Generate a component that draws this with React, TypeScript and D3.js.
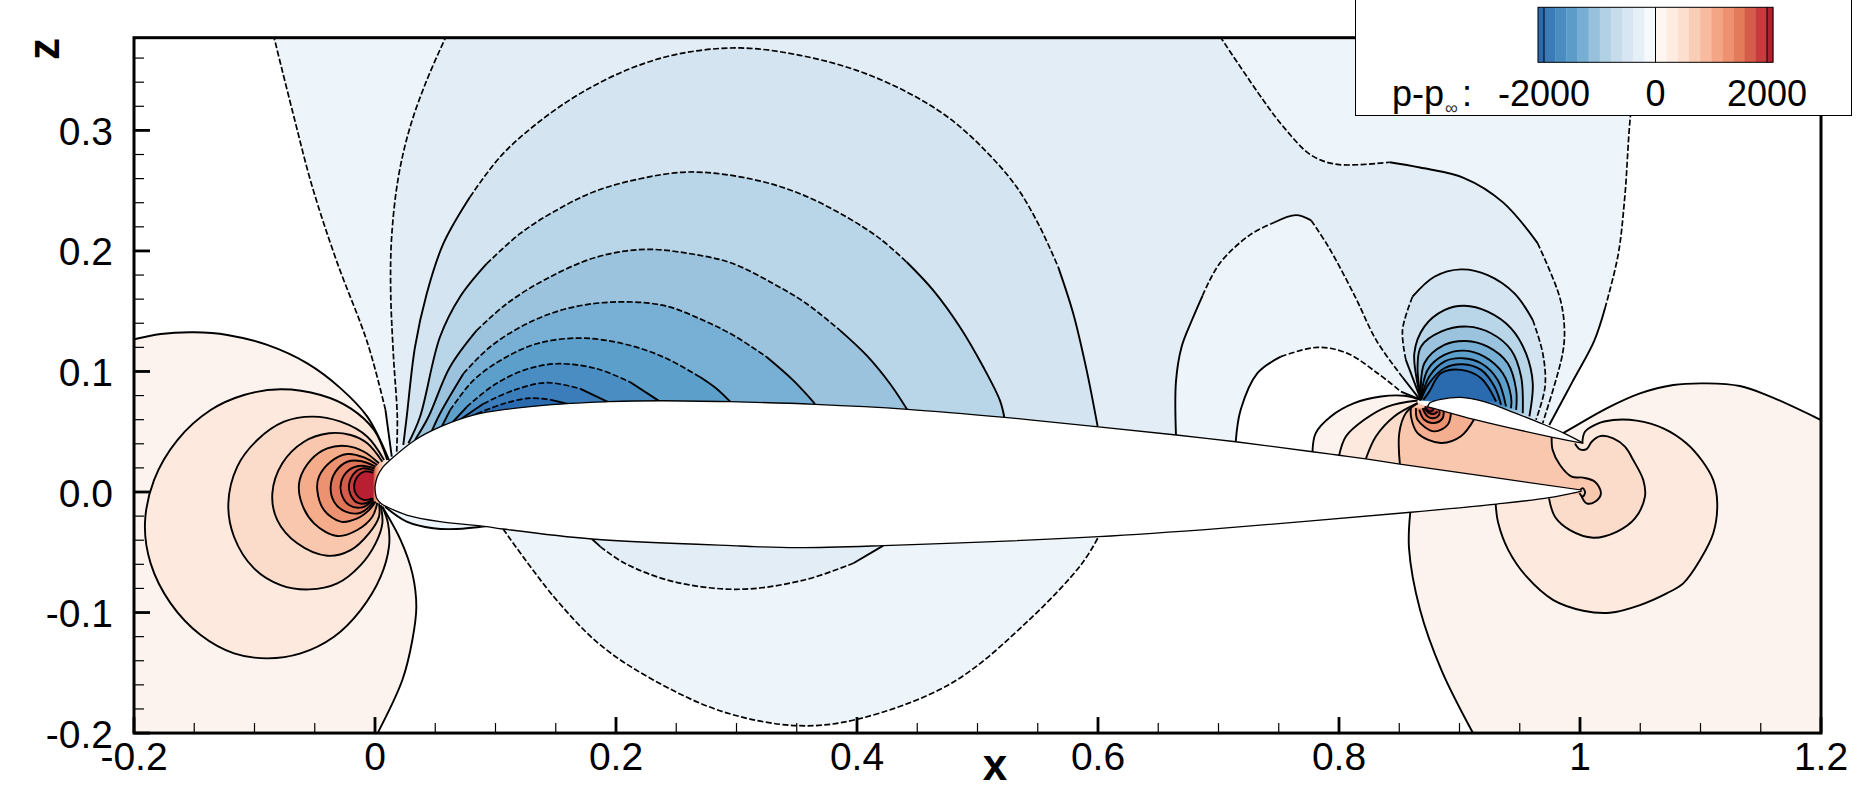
import React from "react";
import * as d3 from "d3";

type P = [number, number];

// ---------- axis data ----------
const xMajor = [-0.2, 0, 0.2, 0.4, 0.6, 0.8, 1, 1.2];
const xLabels = ["-0.2", "0", "0.2", "0.4", "0.6", "0.8", "1", "1.2"];
const zMajor = [-0.2, -0.1, 0, 0.1, 0.2, 0.3];
const zLabels = ["-0.2", "-0.1", "0.0", "0.1", "0.2", "0.3"];
const xMinor = [-0.15, -0.1, -0.05, 0.05, 0.1, 0.15, 0.25, 0.3, 0.35, 0.45, 0.5, 0.55, 0.65, 0.7, 0.75, 0.85, 0.9, 0.95, 1.05, 1.1, 1.15];
const zMinor = [-0.18, -0.16, -0.14, -0.12, -0.08, -0.06, -0.04, -0.02, 0.02, 0.04, 0.06, 0.08, 0.12, 0.14, 0.16, 0.18, 0.22, 0.24, 0.26, 0.28, 0.32, 0.34, 0.36];

// ---------- legend data ----------
const legendLevels = [-2108, -2000, -1800, -1600, -1400, -1200, -1000, -800, -600, -400, -200, 0, 200, 400, 600, 800, 1000, 1200, 1400, 1600, 1800, 2000, 2108];
const legendColors = ["#2B6AAE", "#3A7BB8", "#4A8CC0", "#5C9CC9", "#77AED3", "#97C0DC", "#B2D1E5", "#C6DCEB", "#D7E6F2", "#E5EFF6", "#F5F9FC", "#FFF6F1", "#FEECE1", "#FCDFCF", "#FACDB7", "#F8BBA0", "#F4A586", "#EE9170", "#E37A5A", "#D55C4A", "#C63C3E", "#B2202F"];
const legendTicks = [-2000, 0, 2000];

// ---------- band colours ----------
const blue = ["#EEF5FA", "#E2EDF6", "#D4E5F1", "#B9D6E9", "#9BC3DD", "#78B0D5", "#5C9FCB", "#4A8DC2", "#3A7DBA", "#2A6BB0"];
const red = ["#FDF3EE", "#FDE9DD", "#FBDCCB", "#F9C7AE", "#F5AC8A", "#EC9270", "#DF7558", "#D45C4A", "#C73D3E", "#B81F30"];
const noseReds = ["#F4AE90", "#EC9270", "#DF7558", "#D45C4A", "#C73D3E", "#A81E34"];

// ---------- bodies ----------
const mainUpper: P[] = [[0, 0.0044], [0.0019, 0.0127], [0.0069, 0.021], [0.0125, 0.0265], [0.033, 0.043], [0.054, 0.054], [0.0816, 0.0638], [0.109, 0.0686], [0.162, 0.0735], [0.1935, 0.0749], [0.2367, 0.0757], [0.2948, 0.0749], [0.3655, 0.0727], [0.442, 0.0686], [0.5226, 0.0619], [0.6005, 0.0541], [0.665, 0.0473], [0.7143, 0.0417], [0.778, 0.0334], [0.8, 0.0305], [0.8223, 0.0274], [0.8505, 0.0232], [1.0008, 0.0017]];
const mainLower: P[] = [[1.0008, 0.0005], [0.9745, -0.0047], [0.9308, -0.01], [0.8596, -0.0168], [0.7018, -0.0301], [0.6005, -0.037], [0.4218, -0.0445], [0.3496, -0.0462], [0.3032, -0.0448], [0.18, -0.039], [0.1063, -0.0307], [0.0928, -0.0288], [0.054, -0.0246], [0.0263, -0.0191], [0.0097, -0.0122], [0.0056, -0.01], [0.0014, -0.0052], [0.0002, 0.0003], [0, 0.0044]];
const flapUpper: P[] = [[0.8735, 0.0707], [0.8755, 0.074], [0.8845, 0.0769], [0.9012, 0.0785], [0.9205, 0.0749], [0.9452, 0.0658], [0.9676, 0.057], [0.987, 0.0487], [1.0022, 0.0409]];
const flapLower: P[] = [[1.0022, 0.0405], [0.9773, 0.0454], [0.912, 0.0603], [0.8787, 0.0694], [0.8735, 0.0707]];

// ---------- blue contours, main element, upper side ----------
const c1: P[] = [[0.0139, 0.0293], [0.0087, 0.068], [-0.006, 0.123], [-0.032, 0.192], [-0.052, 0.253], [-0.068, 0.314], [-0.084, 0.378]];
const c2: P[] = [[0.018, 0.0334], [0.0185, 0.0622], [0.0152, 0.1147], [0.013, 0.1673], [0.0138, 0.2115], [0.0194, 0.2613], [0.0291, 0.3028], [0.0429, 0.3415], [0.059, 0.378]];
const l3: P[] = [[0.0235, 0.039], [0.0263, 0.0622], [0.0332, 0.1203], [0.0429, 0.1645], [0.0567, 0.206], [0.0788, 0.2447], [0.1037, 0.2779], [0.1342, 0.3056], [0.1701, 0.3305], [0.2116, 0.3512], [0.2531, 0.3637], [0.3029, 0.3684], [0.3527, 0.3623], [0.3997, 0.3498], [0.4412, 0.3319], [0.4772, 0.3097], [0.5076, 0.2821], [0.5325, 0.253], [0.5518, 0.2198], [0.567, 0.1866], [0.5795, 0.1479], [0.5906, 0.1009], [0.5997, 0.0544]];
const l4: P[] = [[0.0277, 0.0404], [0.0373, 0.0622], [0.0539, 0.1286], [0.0705, 0.1618], [0.0927, 0.1894], [0.1203, 0.2143], [0.148, 0.2323], [0.1812, 0.2489], [0.2199, 0.2599], [0.2614, 0.2655], [0.3112, 0.2599], [0.3527, 0.2475], [0.3914, 0.2281], [0.419, 0.2102], [0.4412, 0.1908], [0.4633, 0.1673], [0.4854, 0.1369], [0.5048, 0.1037], [0.5186, 0.076], [0.5222, 0.0622]];
const l5: P[] = [[0.0332, 0.0431], [0.0443, 0.0622], [0.0622, 0.1037], [0.0844, 0.1341], [0.1093, 0.1562], [0.1425, 0.177], [0.1839, 0.1949], [0.2254, 0.2013], [0.2697, 0.1963], [0.2974, 0.1894], [0.3306, 0.1728], [0.3582, 0.1562], [0.3859, 0.1341], [0.408, 0.1133], [0.4274, 0.0898], [0.4417, 0.0683]];
const l6: P[] = [[0.0457, 0.0473], [0.0539, 0.0649], [0.0733, 0.0981], [0.0954, 0.1203], [0.1259, 0.1396], [0.159, 0.1521], [0.1978, 0.1576], [0.2393, 0.1548], [0.2725, 0.1424], [0.2974, 0.13], [0.325, 0.112], [0.3471, 0.0926], [0.3651, 0.0732]];
const l7: P[] = [[0.054, 0.0514], [0.0622, 0.0677], [0.0816, 0.0926], [0.1065, 0.1106], [0.1342, 0.123], [0.1701, 0.1277], [0.2061, 0.123], [0.2393, 0.112], [0.2697, 0.0954], [0.2835, 0.0857], [0.2951, 0.0746]];
const l8: P[] = [[0.0623, 0.0556], [0.076, 0.0705], [0.0982, 0.0884], [0.1231, 0.1009], [0.1508, 0.1064], [0.1839, 0.1023], [0.2116, 0.0912], [0.2359, 0.0754]];
const l9: P[] = [[0.0678, 0.058], [0.0899, 0.0732], [0.1148, 0.0843], [0.1425, 0.0907], [0.1701, 0.0857], [0.1936, 0.0746]];
const l10: P[] = [[0.0733, 0.0591], [0.0844, 0.0649], [0.1065, 0.0732], [0.1286, 0.0779], [0.1452, 0.0766], [0.1618, 0.0727]];

// ---------- blue contours, right part ----------
const r1: P[] = [[1.05, 0.378], [1.0418, 0.3115], [1.0371, 0.2438], [1.0316, 0.1965], [1.0208, 0.1526], [1.0118, 0.1254], [0.9938, 0.0916], [0.9745, 0.0556]];
const r2: P[] = [[0.7012, 0.378], [0.7372, 0.325], [0.7553, 0.3013], [0.777, 0.2794], [0.7987, 0.2718], [0.842, 0.2736], [0.8672, 0.2692], [0.9034, 0.2607], [0.9359, 0.2405], [0.9648, 0.2065], [0.9829, 0.1625], [0.987, 0.1371], [0.9856, 0.115], [0.969, 0.057]];
const midLoop: P[] = [[0.6647, 0.0473], [0.6647, 0.0916], [0.6694, 0.1206], [0.678, 0.1427], [0.6867, 0.1628], [0.7011, 0.1898], [0.7264, 0.2135], [0.7462, 0.2236], [0.7643, 0.2297], [0.7769, 0.2253], [0.7913, 0.2033], [0.813, 0.1628], [0.8311, 0.1256], [0.8527, 0.0952], [0.8672, 0.0766]];
const whiteLoop: P[] = [[0.7143, 0.0417], [0.7184, 0.0682], [0.7323, 0.0986], [0.7517, 0.1123], [0.7821, 0.12], [0.807, 0.115], [0.832, 0.0985], [0.8514, 0.0833], [0.868, 0.0764]];

// ---------- blue contours, flap ----------
const f3: P[] = [[0.868, 0.0764], [0.8555, 0.1096], [0.8527, 0.1344], [0.861, 0.162], [0.8791, 0.1786], [0.9012, 0.1847], [0.9234, 0.18], [0.9456, 0.1648], [0.9608, 0.1427], [0.9691, 0.115], [0.971, 0.0875], [0.9635, 0.0599]];
const f4: P[] = [[0.868, 0.0764], [0.8625, 0.115], [0.8708, 0.1372], [0.8874, 0.1509], [0.904, 0.1545], [0.9234, 0.1496], [0.9428, 0.1358], [0.9552, 0.115], [0.9608, 0.0902], [0.958, 0.0627]];
const f5: P[] = [[0.868, 0.0764], [0.8652, 0.1041], [0.868, 0.1206], [0.8846, 0.133], [0.9068, 0.1372], [0.9262, 0.1317], [0.9428, 0.1178], [0.9511, 0.0958], [0.9525, 0.0654]];
const f6: P[] = [[0.868, 0.0764], [0.8708, 0.1068], [0.8874, 0.122], [0.9054, 0.1253], [0.9234, 0.1206], [0.94, 0.1068], [0.947, 0.0847], [0.947, 0.0682]];
const f7: P[] = [[0.868, 0.0764], [0.8735, 0.1013], [0.8874, 0.1137], [0.904, 0.1173], [0.9206, 0.1123], [0.9359, 0.0985], [0.9428, 0.0792], [0.9428, 0.0695]];
const f8: P[] = [[0.868, 0.0764], [0.8749, 0.0958], [0.8874, 0.1082], [0.9026, 0.111], [0.9179, 0.1068], [0.9317, 0.093], [0.9386, 0.071]];
const f9: P[] = [[0.868, 0.0764], [0.8749, 0.0903], [0.8874, 0.1027], [0.9026, 0.106], [0.9179, 0.1013], [0.929, 0.0875], [0.9345, 0.0723]];
const f10: P[] = [[0.87, 0.0764], [0.8749, 0.0833], [0.8846, 0.0985], [0.9012, 0.1013], [0.9179, 0.0944], [0.9304, 0.0751]];

// ---------- blue contours, lower side ----------
const lowFront: P[] = [[0.0083, -0.0122], [0.0263, -0.0246], [0.0484, -0.0301], [0.0678, -0.0307], [0.0928, -0.0282]];
const lowOuter: P[] = [[0.1063, -0.0307], [0.1483, -0.0868], [0.187, -0.1269], [0.2309, -0.1559], [0.2885, -0.1822], [0.3496, -0.1938], [0.4003, -0.1885], [0.4784, -0.1586], [0.5429, -0.1061], [0.5869, -0.0591], [0.6005, -0.037]];
const lowInner: P[] = [[0.18, -0.039], [0.187, -0.0453], [0.2072, -0.0591], [0.2479, -0.0744], [0.3022, -0.0807], [0.3563, -0.073], [0.397, -0.0591], [0.4218, -0.0445]];

// ---------- red contours, leading edge ----------
const o1a: P[] = [[-0.2, 0.1267], [-0.1779, 0.1311], [-0.1502, 0.1325], [-0.1226, 0.1303], [-0.0894, 0.122], [-0.0562, 0.1067], [-0.0285, 0.086], [-0.0064, 0.0625], [0.0116, 0.0265]];
const o1b: P[] = [[0.0061, -0.0122], [0.0213, -0.0399], [0.031, -0.0675], [0.0343, -0.0952], [0.031, -0.1228], [0.0227, -0.156], [0.0022, -0.2]];
const o2: P[] = [[0.0102, 0.0265], [-0.0008, 0.0514], [-0.0202, 0.0694], [-0.0451, 0.0805], [-0.0783, 0.0852], [-0.1087, 0.0805], [-0.1364, 0.068], [-0.164, 0.0431], [-0.1834, 0.0099], [-0.1909, -0.026], [-0.1862, -0.0592], [-0.1696, -0.0924], [-0.1447, -0.1187], [-0.117, -0.1339], [-0.0894, -0.138], [-0.0617, -0.1339], [-0.034, -0.1201], [-0.0119, -0.098], [0.0047, -0.0703], [0.0116, -0.0454], [0.0108, -0.026], [0.0061, -0.0122]];
const o3: P[] = [[0.0075, 0.0265], [-0.0064, 0.0459], [-0.0285, 0.0583], [-0.052, 0.0625], [-0.0755, 0.0583], [-0.0977, 0.0431], [-0.1143, 0.021], [-0.1217, -0.0094], [-0.117, -0.0371], [-0.1004, -0.0634], [-0.0783, -0.0772], [-0.0548, -0.0808], [-0.0313, -0.0758], [-0.0119, -0.0606], [0.0005, -0.0426], [0.0061, -0.026], [0.0047, -0.0108]];
const o4: P[] = [[0.0061, 0.0251], [-0.0064, 0.0404], [-0.0202, 0.0473], [-0.0382, 0.0487], [-0.0589, 0.0417], [-0.0769, 0.0238], [-0.0852, -0.0011], [-0.0811, -0.0233], [-0.0645, -0.0426], [-0.0396, -0.0529], [-0.0202, -0.0482], [-0.005, -0.0343], [0.0033, -0.0205], [0.0033, -0.0094]];
const o5: P[] = [[0.0033, 0.0238], [-0.0091, 0.0334], [-0.023, 0.0381], [-0.0396, 0.0362], [-0.0534, 0.0265], [-0.0625, 0.0099], [-0.0617, -0.0067], [-0.0506, -0.026], [-0.0313, -0.0365], [-0.0147, -0.0315], [-0.0022, -0.0205], [0.0019, -0.0089]];
const o6: P[] = [[0.0019, 0.0224], [-0.0091, 0.0287], [-0.023, 0.0315], [-0.0368, 0.0251], [-0.0465, 0.0127], [-0.0479, 0.0016], [-0.0423, -0.015], [-0.0285, -0.0246], [-0.0147, -0.0219], [-0.005, -0.015], [0.0005, -0.008]];
const o7: P[] = [[0.0005, 0.021], [-0.0119, 0.0257], [-0.023, 0.0251], [-0.0327, 0.0169], [-0.0368, 0.0044], [-0.034, -0.008], [-0.0244, -0.0163], [-0.0119, -0.0172], [-0.0008, -0.008]];
const o8: P[] = [[-0.0003, 0.0196], [-0.0119, 0.0218], [-0.0216, 0.0182], [-0.028, 0.0086], [-0.028, -0.0011], [-0.0216, -0.0108], [-0.0105, -0.0127], [-0.0014, -0.0066]];
const o9: P[] = [[-0.0008, 0.0177], [-0.0105, 0.0196], [-0.0174, 0.0155], [-0.0216, 0.0058], [-0.0202, -0.0025], [-0.0147, -0.0089], [-0.0064, -0.0089], [-0.0014, -0.0053]];
const o10: P[] = [[-0.0014, 0.016], [-0.0091, 0.0169], [-0.0147, 0.0127], [-0.0174, 0.0044], [-0.0152, -0.0025], [-0.0091, -0.0066], [-0.0019, -0.0053]];

// ---------- red contours, trailing edge ----------
const ro1a: P[] = [[0.8592, -0.0164], [0.8581, -0.0468], [0.8672, -0.0975], [0.8852, -0.1482], [0.9112, -0.2]];
const ro1b: P[] = [[1.2, 0.0597], [1.156, 0.08], [1.1327, 0.0879], [1.1051, 0.0901], [1.0774, 0.0888], [1.0498, 0.0818], [1.0221, 0.0694], [1.0, 0.0569], [0.9856, 0.0486]];
const ro2: P[] = [[0.93, -0.01], [0.9322, -0.026], [0.9405, -0.0482], [0.9557, -0.0703], [0.9779, -0.0897], [1.0027, -0.0985], [1.0249, -0.1002], [1.0498, -0.0938], [1.0719, -0.0841], [1.0857, -0.0758], [1.0996, -0.0565], [1.1106, -0.0343], [1.1139, -0.0094], [1.1106, 0.0099], [1.1009, 0.0265], [1.0885, 0.0403], [1.0691, 0.0528], [1.047, 0.0592], [1.0276, 0.0597], [1.0138, 0.0564], [1.0041, 0.05], [1.0019, 0.0403]];
const ro3: P[] = [[0.9743, -0.0053], [0.9792, -0.0205], [0.9917, -0.0316], [1.011, -0.0379], [1.0304, -0.033], [1.0456, -0.0219], [1.0539, -0.0039], [1.0525, 0.0099], [1.0442, 0.0265], [1.0373, 0.0376], [1.0276, 0.0445], [1.0166, 0.0464], [1.0097, 0.0417], [1.0055, 0.0356], [1.0, 0.0354], [0.9958, 0.0403]];
const ro4: P[] = [[0.9765, 0.0453], [0.9773, 0.0348], [0.9834, 0.0224], [0.9931, 0.0127], [1.0027, 0.0119], [1.0124, 0.0085], [1.0174, -0.0011], [1.0124, -0.0081], [1.0055, -0.0094], [1.0008, -0.0025]];
const teLoop: P[] = [[0.9989, 0.0004], [1.0023, 0.0032], [1.0042, -0.0004], [1.0023, -0.0037], [0.9995, -0.001]];

// ---------- red contours, gap and flap nose ----------
const fo1: P[] = [[0.778, 0.0337], [0.7807, 0.0489], [0.7932, 0.0627], [0.8126, 0.0737], [0.8348, 0.0792], [0.8542, 0.0798], [0.868, 0.0764]];
const fo2: P[] = [[0.8001, 0.0304], [0.8057, 0.0461], [0.8209, 0.0599], [0.8403, 0.0709], [0.8652, 0.0759]];
const fo3: P[] = [[0.8223, 0.0276], [0.8306, 0.0461], [0.8458, 0.0627], [0.8652, 0.0737]];
const fo4: P[] = [[0.8505, 0.0234], [0.85, 0.0489], [0.8555, 0.0655], [0.8652, 0.0737]];
const n1: P[] = [[0.8597, 0.071], [0.8597, 0.0627], [0.8652, 0.0489], [0.8846, 0.0407], [0.9012, 0.0462], [0.9123, 0.0605]];
const n2: P[] = [[0.8639, 0.0696], [0.8652, 0.0599], [0.8791, 0.0503], [0.8902, 0.0558], [0.8929, 0.0654]];
const n3: P[] = [[0.8666, 0.0682], [0.8708, 0.0599], [0.8791, 0.0572], [0.886, 0.0613], [0.8868, 0.0682]];
const n4: P[] = [[0.8694, 0.0696], [0.8735, 0.0627], [0.8791, 0.0613], [0.8832, 0.0641], [0.8832, 0.0682]];
const n5: P[] = [[0.8708, 0.0696], [0.8749, 0.0654], [0.8791, 0.0649], [0.8818, 0.0668]];
const n6: P[] = [[0.8713, 0.071], [0.8749, 0.0668], [0.8783, 0.0682], [0.8763, 0.0718]];

// ---------- scales ----------
const xs = d3.scaleLinear().domain([-0.2, 1.2]).range([134, 1821]);
const zs = d3.scaleLinear().domain([0, 0.3]).range([492, 130.4]);
const legendX = d3.scaleLinear().domain([-2000, 2000]).range([1544, 1767]);

const smoothGen = d3.line<P>().x((d) => xs(d[0])).y((d) => zs(d[1])).curve(d3.curveCatmullRom.alpha(0.5));
const at = (q: P) => `L${xs(q[0])},${zs(q[1])}`;
// a region = smooth contours joined by straight runs through the bodies
const region = (...parts: (P[] | P)[]) => {
  let s = "";
  parts.forEach((p, i) => {
    if (typeof p[0] === "number") s += at(p as P);
    else {
      const d = smoothGen(p as P[]) as string;
      s += i ? d.replace(/^M/, "L") : d;
    }
  });
  return s + "Z";
};

// fills, painter's order
const fills: { d: string; fill: string }[] = [
  { d: region(c1, r1, [0.9, 0.075], [0.868, 0.0764], [0.715, 0.03], [0.1, 0.03]), fill: blue[0] },
  { d: region(c2, r2, [0.9, 0.075], [0.868, 0.0764], [0.665, 0.03], [0.1, 0.03]), fill: blue[1] },
  { d: region(midLoop, [0.868, 0.02], [0.665, 0.03]), fill: blue[0] },
  { d: region(whiteLoop, [0.868, 0.015], [0.7143, 0.03]), fill: "#FFFFFF" },
  ...[l3, l4, l5, l6, l7, l8, l9, l10].map((c, i) => ({ d: region(c), fill: blue[i + 2] })),
  ...[f3, f4, f5, f6, f7, f8, f9, f10].map((c, i) => ({ d: region(c), fill: blue[i + 2] })),
  { d: region(lowFront), fill: blue[0] },
  { d: region(lowOuter), fill: blue[0] },
  { d: region(lowInner), fill: blue[1] },
  { d: region(o1a, o1b, [-0.2, -0.2]), fill: red[0] },
  ...[o2, o3, o4, o5, o6, o7, o8, o9, o10].map((c, i) => ({ d: region(c), fill: red[i + 1] })),
  { d: region(ro1a, [1.2, -0.2], ro1b, [0.95, 0.06]), fill: red[0] },
  { d: region(ro2, [0.95, 0.055]), fill: red[1] },
  { d: region(ro3, [0.95, 0.055], [0.95, -0.003]), fill: red[2] },
  { d: region(fo1, [0.868, 0.015]), fill: red[0] },
  { d: region(fo2, [0.868, 0.015]), fill: red[1] },
  { d: region(fo3, [0.868, 0.015]), fill: red[2] },
  { d: region(fo4, [0.8735, 0.0707], [0.9773, 0.0454], ro4, [0.9, 0.012]), fill: red[3] },
  ...[n1, n2, n3, n4, n5, n6].map((c, i) => ({ d: region(c), fill: noseReds[i] })),
];

// which point ranges of a contour are drawn dashed
const lines: { c: P[]; dash?: [number, number][] }[] = [
  { c: c1, dash: [[1, 6]] }, { c: c2, dash: [[0, 8]] },
  { c: l3, dash: [[5, 19]] }, { c: l4, dash: [[4, 14]] }, { c: l5, dash: [[3, 12]] }, { c: l6, dash: [[2, 10]] },
  { c: l7, dash: [[1, 8]] }, { c: l8, dash: [[1, 6]] }, { c: l9, dash: [[1, 4]] }, { c: l10, dash: [[1, 4]] },
  { c: r1, dash: [[0, 4]] }, { c: r2, dash: [[0, 5], [9, 13]] },
  { c: midLoop, dash: [[4, 7], [9, 13]] }, { c: whiteLoop, dash: [[3, 7]] },
  { c: f3, dash: [[1, 3], [8, 11]] }, { c: f4 }, { c: f5 }, { c: f6 }, { c: f7 }, { c: f8 }, { c: f9 }, { c: f10 },
  { c: lowFront }, { c: lowOuter, dash: [[0, 10]] }, { c: lowInner, dash: [[1, 6]] },
  { c: o1a }, { c: o1b }, { c: o2 }, { c: o3 }, { c: o4 }, { c: o5 }, { c: o6 }, { c: o7 }, { c: o8 }, { c: o9 }, { c: o10 },
  { c: ro1a }, { c: ro1b }, { c: ro2 }, { c: ro3 }, { c: ro4 }, { c: teLoop },
  { c: fo1 }, { c: fo2 }, { c: fo3 }, { c: fo4 }, { c: n1 }, { c: n2 }, { c: n3 }, { c: n4 }, { c: n5 }, { c: n6 },
];

const segments = lines.flatMap(({ c, dash }) => {
  const out: { d: string; dashed: boolean }[] = [];
  let i = 0;
  for (const [a, b] of dash ?? []) {
    if (a > i) out.push({ d: smoothGen(c.slice(i, a + 1)) as string, dashed: false });
    out.push({ d: smoothGen(c.slice(a, b + 1)) as string, dashed: true });
    i = b;
  }
  if (i < c.length - 1) out.push({ d: smoothGen(c.slice(i)) as string, dashed: false });
  return out;
});

const font = "'Liberation Sans', Arial, sans-serif";
const plot = { left: xs(-0.2), right: xs(1.2), top: 37.7, bottom: zs(-0.2) };

export default function App() {
  return (
    <svg width={1862} height={804} style={{ position: "absolute", left: 0, top: 0, display: "block" }} fontFamily={font}>
      <defs>
        <clipPath id="plot"><rect x={plot.left} y={plot.top} width={plot.right - plot.left} height={plot.bottom - plot.top} /></clipPath>
      </defs>
      <rect width={1862} height={804} fill="#fff" />
      <g clipPath="url(#plot)">
        {fills.map((f, i) => <path key={i} d={f.d} fill={f.fill} stroke={f.fill} strokeWidth={0.5} />)}
        {segments.map((s, i) => (
          <path key={i} d={s.d} fill="none" stroke="#000" strokeWidth={s.dashed ? 1.7 : 1.9} strokeDasharray={s.dashed ? "6 2.4" : undefined} />
        ))}
        <path d={region(mainUpper, mainLower)} fill="#fff" stroke="#000" strokeWidth={1.3} />
        <path d={region(flapUpper, flapLower)} fill="#fff" stroke="#000" strokeWidth={1.3} />
      </g>

      {/* axes */}
      {xMinor.map((v) => <line key={v} x1={xs(v)} x2={xs(v)} y1={plot.bottom} y2={plot.bottom - 10} stroke="#000" strokeWidth={1.2} />)}
      {zMinor.map((v) => <line key={v} y1={zs(v)} y2={zs(v)} x1={plot.left} x2={plot.left + 10} stroke="#000" strokeWidth={1.2} />)}
      {xMajor.map((v) => <line key={v} x1={xs(v)} x2={xs(v)} y1={plot.bottom} y2={plot.bottom - 16} stroke="#000" strokeWidth={2.8} />)}
      {zMajor.map((v) => <line key={v} y1={zs(v)} y2={zs(v)} x1={plot.left} x2={plot.left + 16} stroke="#000" strokeWidth={2.8} />)}
      <rect x={plot.left} y={plot.top} width={plot.right - plot.left} height={plot.bottom - plot.top} fill="none" stroke="#000" strokeWidth={3} />
      {xMajor.map((v, i) => <text key={v} x={xs(v)} y={770} textAnchor="middle" fontSize={39}>{xLabels[i]}</text>)}
      {zMajor.map((v, i) => <text key={v} x={113} y={zs(v) + 14.5} textAnchor="end" fontSize={39}>{zLabels[i]}</text>)}
      <text x={995} y={780} textAnchor="middle" fontSize={44} fontWeight="bold">x</text>
      <text transform="translate(59,49) rotate(-90)" textAnchor="middle" fontSize={44} fontWeight="bold">z</text>

      {/* legend */}
      <rect x={1355.5} y={-2} width={496} height={117.5} fill="#fff" stroke="#000" strokeWidth={1} />
      {legendColors.map((c, i) => (
        <rect key={i} x={legendX(legendLevels[i])} y={7.3} width={legendX(legendLevels[i + 1]) - legendX(legendLevels[i]) + 0.3} height={55} fill={c} />
      ))}
      <rect x={legendX(-2108)} y={7.3} width={legendX(2108) - legendX(-2108)} height={55} fill="none" stroke="#000" strokeWidth={1} />
      {legendTicks.map((v) => <line key={v} x1={legendX(v)} x2={legendX(v)} y1={7.3} y2={62.3} stroke="#000" strokeWidth={1} />)}
      {legendTicks.map((v) => <text key={v} x={legendX(v)} y={106} textAnchor="middle" fontSize={36}>{v}</text>)}
      <text x={1392} y={106} fontSize={36}>p-p</text>
      <text x={1445} y={114} fontSize={18} fill="#333">∞</text>
      <text x={1462} y={106} fontSize={36}>:</text>
    </svg>
  );
}
